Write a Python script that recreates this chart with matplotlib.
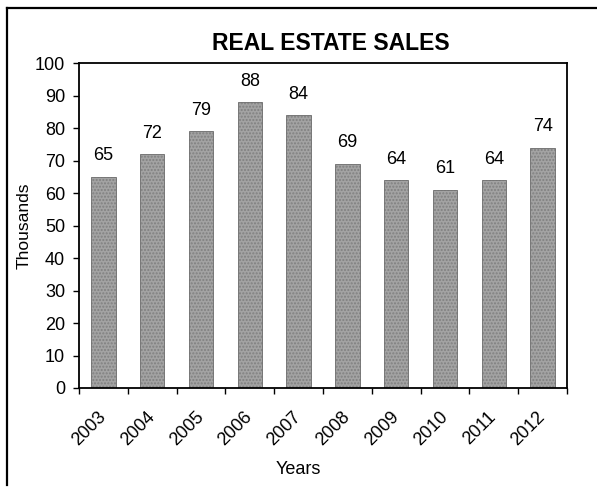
import matplotlib
matplotlib.use("Agg")
import matplotlib.pyplot as plt
import numpy as np
from matplotlib.lines import Line2D

years = ["2003", "2004", "2005", "2006", "2007", "2008", "2009", "2010", "2011", "2012"]
sales = [65, 72, 79, 88, 84, 69, 64, 61, 64, 74]
y_ticks = [0, 10, 20, 30, 40, 50, 60, 70, 80, 90, 100]

plt.rcParams['font.family'] = ['Liberation Sans', 'DejaVu Sans']

W, H = 597, 487
fig = plt.figure(figsize=(W / 100, H / 100), dpi=100)
ax = fig.add_axes([79 / W, 1 - 388 / H, (567 - 79) / W, (388 - 63) / H])

x = np.arange(len(years))
bars = ax.bar(x, sales, width=0.5, color='#a3a3a3', edgecolor='#6a6a6a',
              linewidth=0.6, hatch='.....')
for b in bars:
    b._hatch_color = (0.5, 0.5, 0.5, 1.0)

for xi, v in zip(x, sales):
    ax.annotate(str(v), (xi, v), xytext=(0, 9), textcoords='offset points',
                ha='center', va='bottom', fontsize=13)

ax.set_xlim(-0.5, len(years) - 0.5)
ax.set_ylim(0, 100)
ax.set_yticks(y_ticks)
ax.tick_params(axis='y', labelsize=13, length=4, width=1, direction='out', pad=6)

ax.set_xticks(np.arange(-0.5, len(years), 1.0))
ax.set_xticklabels([])
ax.tick_params(axis='x', which='major', length=4, width=1, direction='out')
ax.set_xticks(x, minor=True)
ax.set_xticklabels(years, minor=True, rotation=45, ha='right', va='center',
                   rotation_mode='anchor', fontsize=13)
ax.tick_params(axis='x', which='minor', length=0, pad=19)

for s in ax.spines.values():
    s.set_linewidth(1.3)
    s.set_color('black')

ax.set_ylabel("Thousands", fontsize=12.5, labelpad=2)
fig.text(298.5 / W, 1 - 470 / H, "Years", ha='center', va='center', fontsize=13)
fig.text(331 / W, 1 - 43 / H, "REAL ESTATE SALES", ha='center', va='center',
         fontsize=16.5, fontweight='bold')

# outer frame lines (left and top)
fig.add_artist(Line2D([7 / W, 7 / W], [1 - 8 / H, 1 - 485 / H], color='black', lw=1.6,
                      transform=fig.transFigure))
fig.add_artist(Line2D([7 / W, 1.0], [1 - 8 / H, 1 - 8 / H], color='black', lw=1.6,
                      transform=fig.transFigure))

fig.savefig("out.png", dpi=100)
